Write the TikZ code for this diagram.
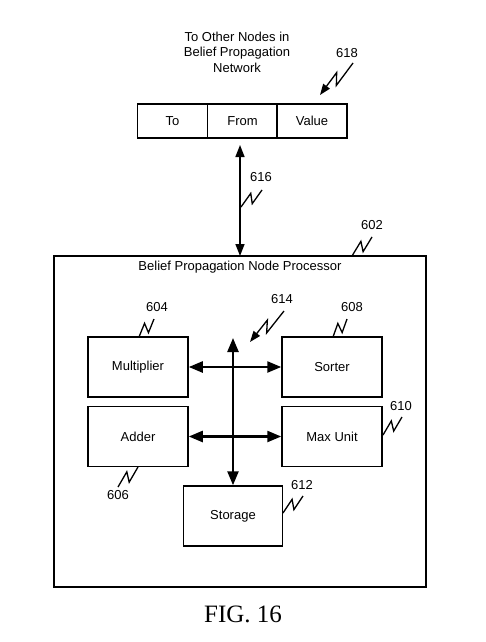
\documentclass[tikz,border=0pt]{standalone}
\usepackage{fontspec}
\setmainfont{Liberation Sans}
\newfontfamily\figserif{Liberation Serif}
\usetikzlibrary{calc,arrows.meta}
\tikzset{
  lbl/.style={font=\fontsize{13}{15.5}\selectfont, inner sep=0pt, align=center},
  unit/.style={draw, line width=1.5pt, minimum width=100pt, minimum height=60pt, inner sep=0pt, font=\fontsize{13}{15.5}\selectfont},
  cell/.style={draw, line width=1.4pt, minimum width=70pt, minimum height=34pt, inner sep=0pt, font=\fontsize{13}{15.5}\selectfont},
  bus/.style={line width=2.4pt, {Triangle[length=14pt,width=11pt]}-{Triangle[length=14pt,width=11pt]}},
  link/.style={line width=1.5pt, {Triangle[length=12pt,width=9pt]}-{Triangle[length=12pt,width=9pt]}},
  leader/.style={line width=1.3pt},
  ptr/.style={-{Triangle[length=11pt,width=8pt]}},
}
\newcommand\zig[3][]{\draw[leader,#1] (#2) -- ($(#2)!.6!(#3)!4.5pt!90:(#3)$) -- ($(#2)!.4!(#3)!4.5pt!-90:(#3)$) -- (#3);}
\begin{document}
\begin{tikzpicture}[x=1pt,y=-1pt]
\useasboundingbox (0,0) rectangle (486,642);
% top register
\node[lbl] (net) at (237,52) {To Other Nodes in\\Belief Propagation\\Network};
\node[cell] (to) at (172.5,121) {To};
\node[cell] (from) at (242.5,121) {From};
\node[cell] (val) at (312,121) {Value};
% outer box
\node[draw, line width=1.8pt, minimum width=372pt, minimum height=331pt, inner sep=0pt] (proc) at (240,421.5) {};
\node[lbl] (ptitle) at (240,267) {Belief Propagation Node Processor};
% units
\node[unit] (mul) at (138,367) {Multiplier};
\node[unit] (sort) at (332,367) {Sorter};
\node[unit] (add) at (138,436.5) {Adder};
\node[unit] (max) at (332,436.5) {Max Unit};
\node[unit, minimum width=99pt] (stor) at (233,516) {Storage};
% link 616
\coordinate (lt) at (240,145);
\coordinate (lb) at (240,256);
\draw[link] (lt) -- (lb);
% bus
\coordinate (bustop) at (233,338);
\draw[bus] (bustop) -- (stor.north);
\draw[bus] (mul.east) -- (sort.west);
\draw[bus] (add.east) -- (max.west);
% reference numerals
\node[lbl] (n618) at (347,53) {618};
\node[lbl] (n616) at (261,177) {616};
\node[lbl] (n602) at (372,225) {602};
\node[lbl] (n614) at (282,299) {614};
\node[lbl] (n604) at (157,307) {604};
\node[lbl] (n608) at (352,307) {608};
\node[lbl] (n610) at (401,406) {610};
\node[lbl] (n606) at (118,495) {606};
\node[lbl] (n612) at (302,485) {612};
% leaders
\coordinate (a618s) at (353,63); \coordinate (a618e) at (320,95);
\zig[ptr]{a618s}{a618e}
\coordinate (a614s) at (284,311); \coordinate (a614e) at (250,342);
\zig[ptr]{a614s}{a614e}
\coordinate (a616s) at (241,207); \coordinate (a616e) at (262,190);
\zig{a616s}{a616e}
\coordinate (a602s) at (352,256); \coordinate (a602e) at (372,237);
\zig{a602s}{a602e}
\coordinate (a604s) at (139,337); \coordinate (a604e) at (154,319);
\zig{a604s}{a604e}
\coordinate (a608s) at (333,337); \coordinate (a608e) at (347,319);
\zig{a608s}{a608e}
\coordinate (a610s) at (383,435); \coordinate (a610e) at (402,417);
\zig{a610s}{a610e}
\coordinate (a606s) at (118,487); \coordinate (a606e) at (138,467);
\zig{a606s}{a606e}
\coordinate (a612s) at (283,513); \coordinate (a612e) at (303,496);
\zig{a612s}{a612e}
% caption
\node[font=\figserif\fontsize{25}{30}\selectfont, inner sep=0pt, anchor=base] (cap) at (243,622) {FIG. 16};
\end{tikzpicture}
\end{document}
